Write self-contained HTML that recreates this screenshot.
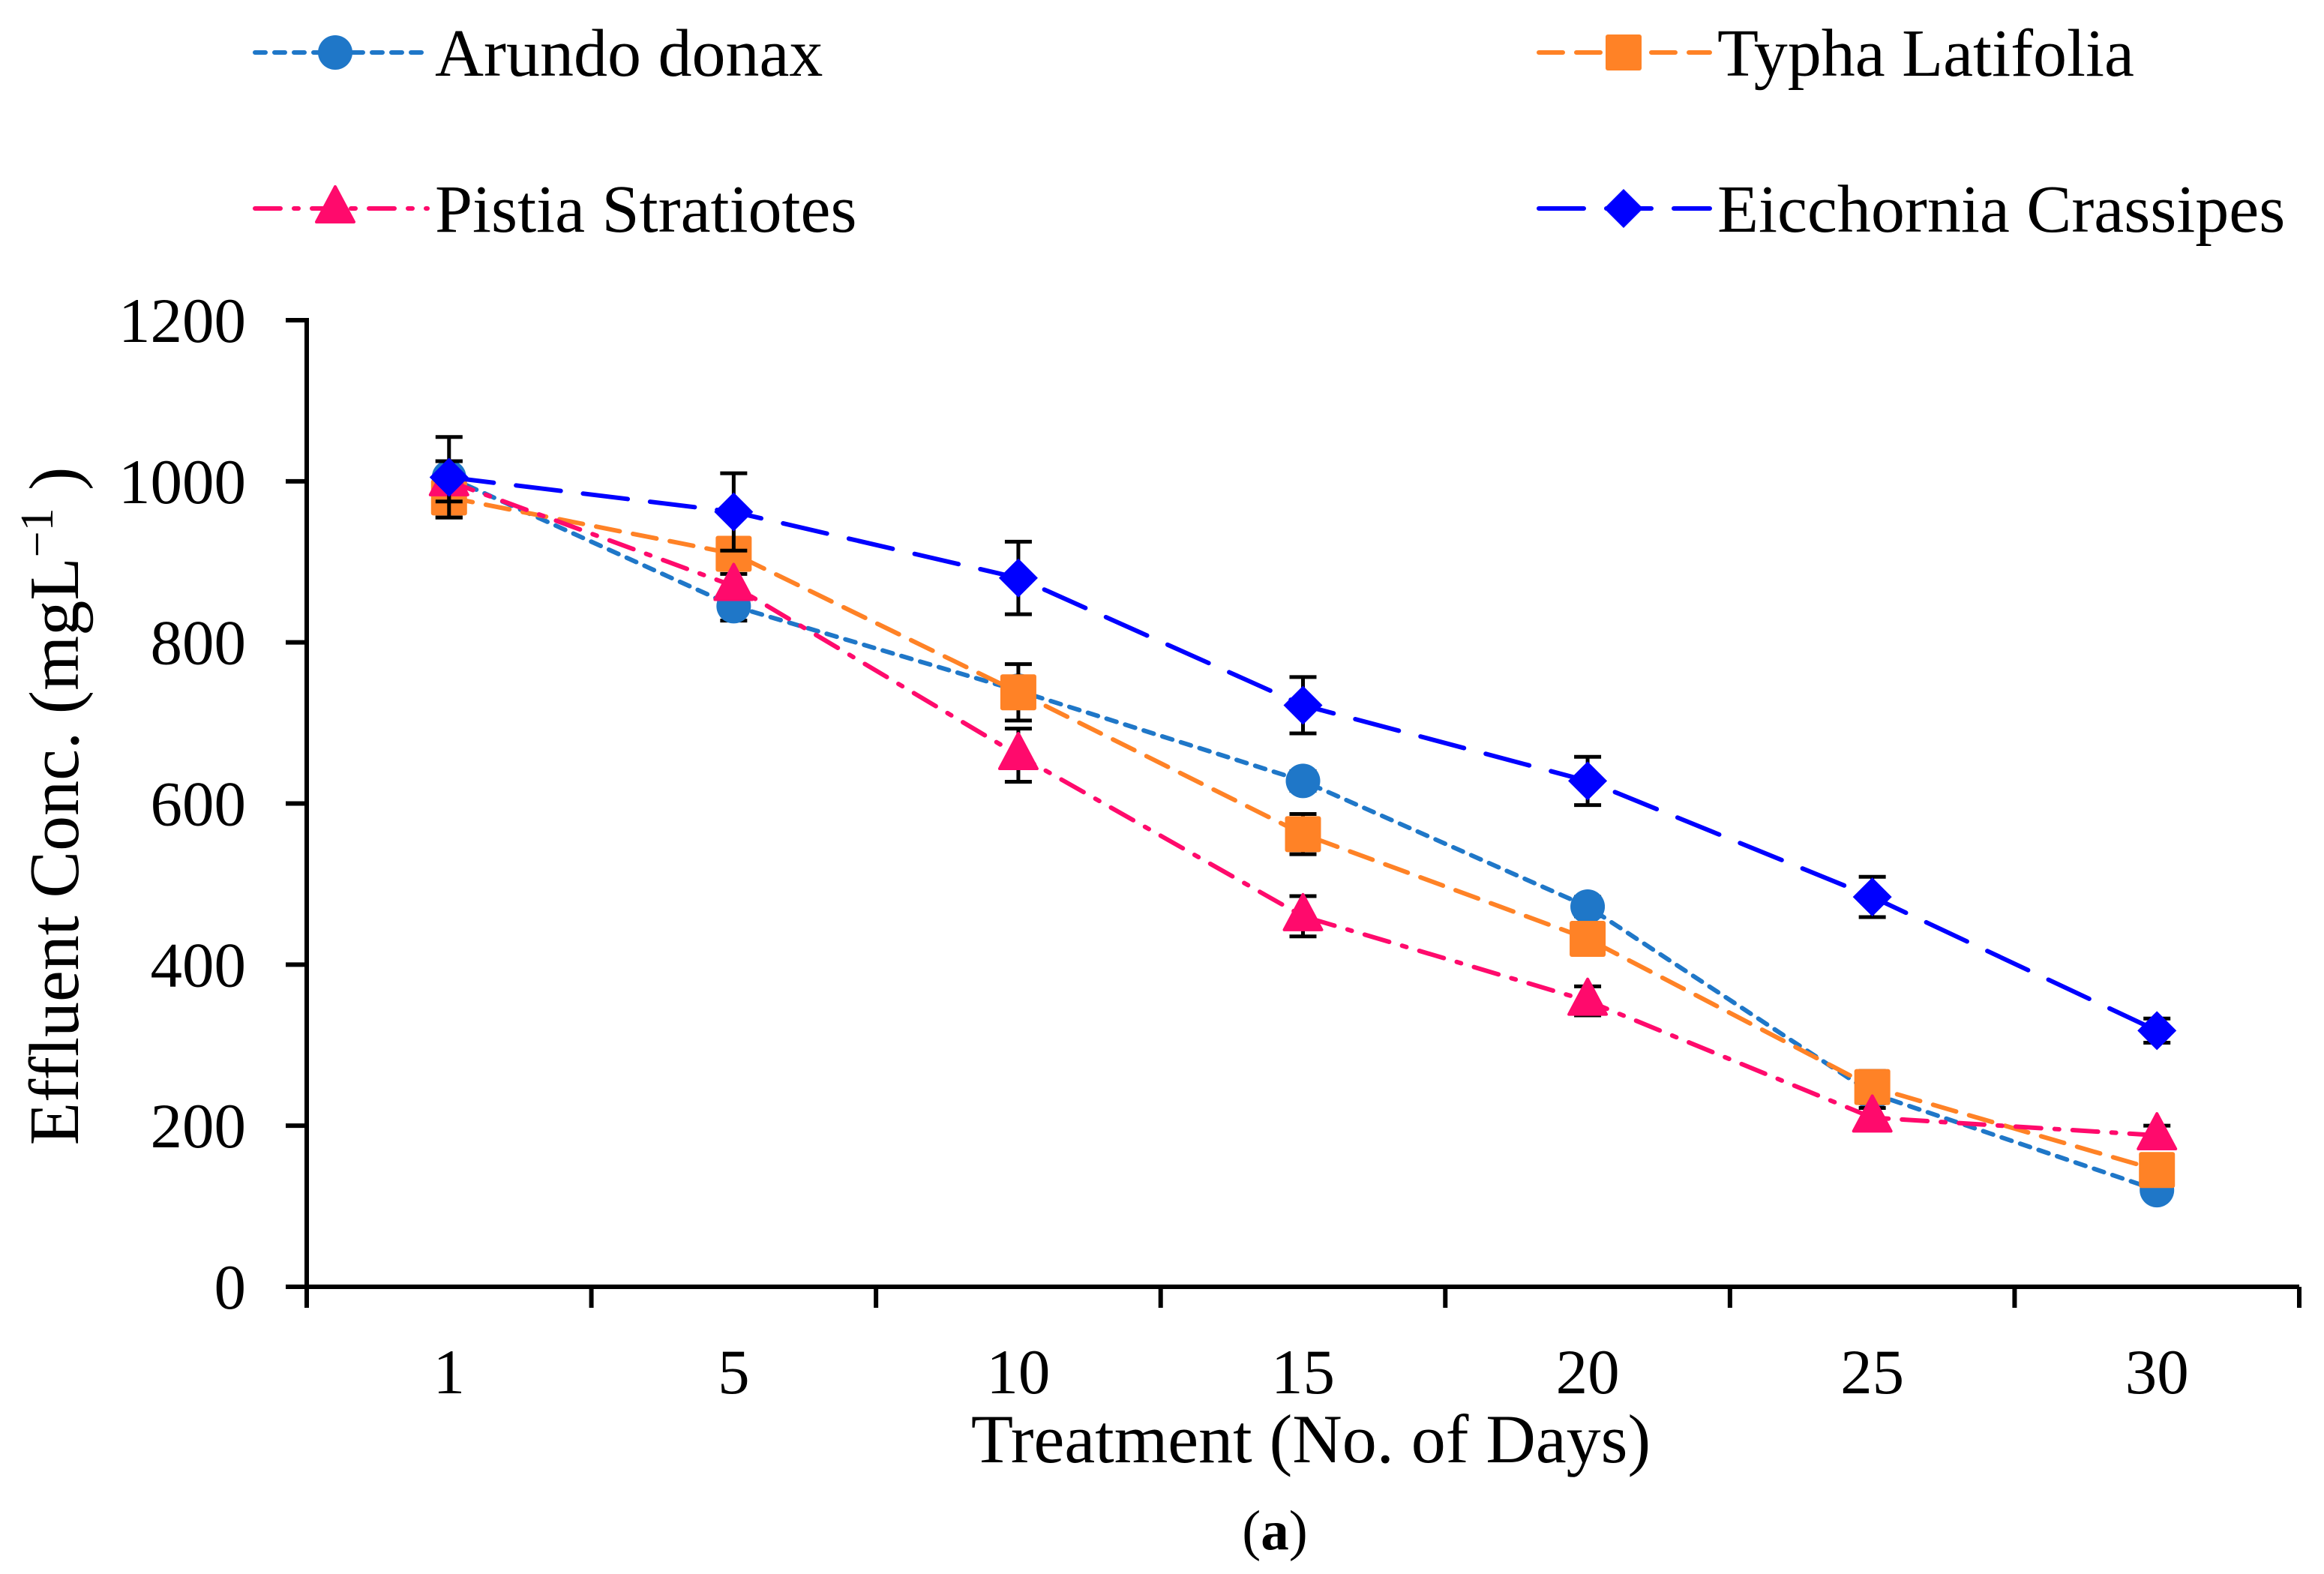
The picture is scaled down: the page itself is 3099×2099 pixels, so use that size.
<!DOCTYPE html>
<html><head><meta charset="utf-8"><style>
html,body{margin:0;padding:0;background:#fff;}
svg{display:block;font-family:"Liberation Serif",serif;}
</style></head><body>
<svg id="chart" width="3099" height="2099" viewBox="0 0 3099 2099" xmlns="http://www.w3.org/2000/svg"></svg>
<script>
const categories = ["1","5","10","15","20","25","30"];
const yTicks = [0,200,400,600,800,1000,1200];
const seriesNames = ["Arundo donax","Typha Latifolia","Pistia Stratiotes","Eicchornia Crassipes"];
const arundo = [1005,845,740,628,472,240,120];
const typha = [980,910,738,562,432,248,145];
const pistia = [1000,870,660,460,355,210,188];
const eicchornia = [1005,962,880,722,628,484,318];
const arundoErr = [20,18,15,12,12,12,8];
const typhaErr = [25,15,35,25,15,20,10];
const pistiaErr = [25,15,33,25,18,12,12];
const eicchorniaErr = [50,48,45,35,30,25,15];

const NS="http://www.w3.org/2000/svg";
const svg=document.getElementById('chart');
const X0=409,X1=3066,Y0=1716,Y1=427;
const bw=(X1-X0)/categories.length;
function xs(i){return X0+bw*(i+0.5);}
function ys(v){return Y0-(v/1200)*(Y0-Y1);}
function mk(tag,attrs,parent){const e=document.createElementNS(NS,tag);for(const k in attrs)e.setAttribute(k,attrs[k]);(parent||svg).appendChild(e);return e;}

let ax=mk('line',{x1:X0,y1:Y1-3,x2:X0,y2:Y0+28,stroke:'#000','stroke-width':6});


let axx=mk('line',{x1:X0-3,y1:Y0,x2:X1,y2:Y0,stroke:'#000','stroke-width':6});


yTicks.forEach(v=>{
  const y=ys(v);
  let t=mk('line',{x1:X0-28,y1:y,x2:X0,y2:y,stroke:'#000','stroke-width':6});
  
  
  let l=mk('text',{x:328,y:y+29,'font-size':85,'text-anchor':'end',fill:'#000'});
  l.textContent=v;
  
  
});
for(let i=0;i<=categories.length;i++){
  const x=X0+bw*i;
  let t=mk('line',{x1:x,y1:Y0,x2:x,y2:Y0+28,stroke:'#000','stroke-width':6});
  
  
}
categories.forEach((c,i)=>{
  let l=mk('text',{x:xs(i),y:1858,'font-size':85,'text-anchor':'middle',fill:'#000'});
  l.textContent=c;
  
  
});
let yt=mk('text',{x:0,y:0,'font-size':94,'text-anchor':'middle',fill:'#000',transform:'translate(104,1075) rotate(-90)'});
yt.innerHTML='Effluent Conc. (mgL<tspan dy="-34" font-size="62">−1</tspan><tspan dy="34"> )</tspan>';


let xt=mk('text',{x:1748,y:1950,'font-size':92,'text-anchor':'middle',fill:'#000'});
xt.textContent='Treatment (No. of Days)';


let cap=mk('text',{x:1700,y:2066,'font-size':75,'text-anchor':'middle',fill:'#000'});
cap.innerHTML='(<tspan font-weight="bold">a</tspan>)';



const series=[
 {vals:arundo,err:arundoErr,color:'#1f77c8',dash:'14 12',m:'circle'},
 {vals:typha,err:typhaErr,color:'#ff8226',dash:'32 18',m:'square'},
 {vals:pistia,err:pistiaErr,color:'#ff0a6c',dash:'34 18 6 18',m:'triangle'},
 {vals:eicchornia,err:eicchorniaErr,color:'#0000ff',dash:'60 30',m:'diamond'}
];
function marker(type,x,y,color,g){
  if(type==='circle') return mk('circle',{cx:x,cy:y,r:23,fill:color},g);
  if(type==='square') return mk('rect',{x:x-24,y:y-24,width:48,height:48,rx:3,fill:color},g);
  if(type==='triangle') return mk('polygon',{points:`${x},${y-29} ${x+25},${y+18} ${x-25},${y+18}`,fill:color,'stroke':color,'stroke-width':4,'stroke-linejoin':'round'},g);
  return mk('polygon',{points:`${x},${y-26} ${x+26},${y} ${x},${y+26} ${x-26},${y}`,fill:color},g);
}
series.forEach((s,si)=>{
  const g=mk('g',{});
  
  
  const pts=s.vals.map((v,i)=>xs(i)+','+ys(v)).join(' ');
  let pl=mk('polyline',{points:pts,fill:'none',stroke:s.color,'stroke-width':6,'stroke-dasharray':s.dash,'stroke-linecap':'round'},g);
  
  
  s.vals.forEach((v,i)=>{
    const x=xs(i),a=ys(v+s.err[i]),b=ys(v-s.err[i]);
    const eg=mk('g',{stroke:'#000','stroke-width':5},g);
    
    
    mk('line',{x1:x,y1:a,x2:x,y2:b},eg);
    mk('line',{x1:x-18,y1:a,x2:x+18,y2:a},eg);
    mk('line',{x1:x-18,y1:b,x2:x+18,y2:b},eg);
  });
  s.vals.forEach((v,i)=>{
    const m=marker(s.m,xs(i),ys(v),s.color,g);
    
    
  });
});
const legPos=[[340,570,447,70],[2052,2280,2165,70],[340,570,447,278],[2052,2280,2165,278]];
[0,1,2,3].forEach((si,k)=>{
  const s=series[si],p=legPos[k];
  const g=mk('g',{});
  
  
  mk('line',{x1:p[0],y1:p[3],x2:p[1],y2:p[3],stroke:s.color,'stroke-width':6,'stroke-dasharray':s.dash,'stroke-linecap':'round'},g);
  marker(s.m,p[2],p[3],s.color,g);
  const t=mk('text',{x:p[1]+10,y:p[3]+31,'font-size':90,fill:'#000'},g);
  t.textContent=seriesNames[si];
});
</script>
</body></html>
